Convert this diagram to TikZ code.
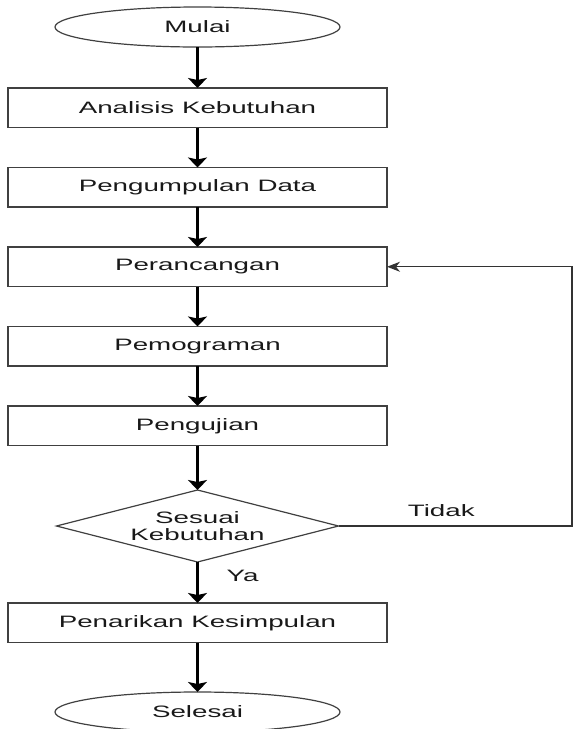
\documentclass[tikz,border=0pt]{standalone}
\usepackage{fontspec}
\setmainfont{Liberation Sans}[FakeStretch=1.68]
\usetikzlibrary{arrows.meta,positioning,shapes.geometric}
\tikzset{
  flowbox/.style={
    rectangle,
    draw=black!75,
    line width=1.2pt,
    minimum width=379pt,
    minimum height=39.5pt,
    inner sep=0pt,
    outer sep=0pt,
    align=center
  },
  terminal/.style={
    ellipse,
    draw=black!75,
    line width=1.2pt,
    minimum width=285pt,
    minimum height=40pt,
    inner sep=0pt,
    outer sep=0pt
  },
  decision/.style={
    diamond,
    aspect=3.9,
    draw=black!75,
    line width=1.2pt,
    minimum width=282pt,
    minimum height=72pt,
    inner sep=0pt,
    outer sep=0pt,
    align=center,
    font=\fontsize{16.5}{16.5}\selectfont
  },
  flowline/.style={-{Stealth[length=10pt,width=19pt,inset=2pt]},line width=2.2pt},
  backline/.style={-{Stealth[length=13pt,width=10pt,inset=4pt]},line width=1.2pt},
  flowlabel/.style={inner sep=0pt}
}

\begin{document}
\begin{tikzpicture}[x=1pt,y=1pt,node distance=40pt,
  every node/.append style={font=\fontsize{16.5}{20}\selectfont,text=black!90}]
  \useasboundingbox (0,0) rectangle (573,-729);
  \node[terminal] (mulai) at (197.5,-27) {Mulai};
  \node[flowbox, below=41pt of mulai] (analisis) {Analisis Kebutuhan};
  \node[flowbox, below=of analisis] (data) {Pengumpulan Data};
  \node[flowbox, below=of data] (rancang) {Perancangan};
  \node[flowbox, below=of rancang] (program) {Pemograman};
  \node[flowbox, below=of program] (uji) {Pengujian};
  \node[decision, below=44.5pt of uji] (sesuai) {Sesuai\\Kebutuhan};
  \node[flowbox, below=41pt of sesuai] (simpul) {Penarikan Kesimpulan};
  \node[terminal, below=49.5pt of simpul] (selesai) {Selesai};
  \coordinate[right=233.5pt of sesuai.east] (balik);
  \draw[flowline] (mulai) -- (analisis);
  \draw[flowline] (analisis) -- (data);
  \draw[flowline] (data) -- (rancang);
  \draw[flowline] (rancang) -- (program);
  \draw[flowline] (program) -- (uji);
  \draw[flowline] (uji) -- (sesuai);
  \draw[flowline] (sesuai) -- node[flowlabel, pos=0.35, right=28pt] (ya) {Ya} (simpul);
  \draw[flowline] (simpul) -- (selesai);
  \draw[backline, draw=black!80] (sesuai.east) -- node[flowlabel, pos=0.44, above=9pt] (tidak) {Tidak} (balik) |- (rancang.east);
\end{tikzpicture}
\end{document}
